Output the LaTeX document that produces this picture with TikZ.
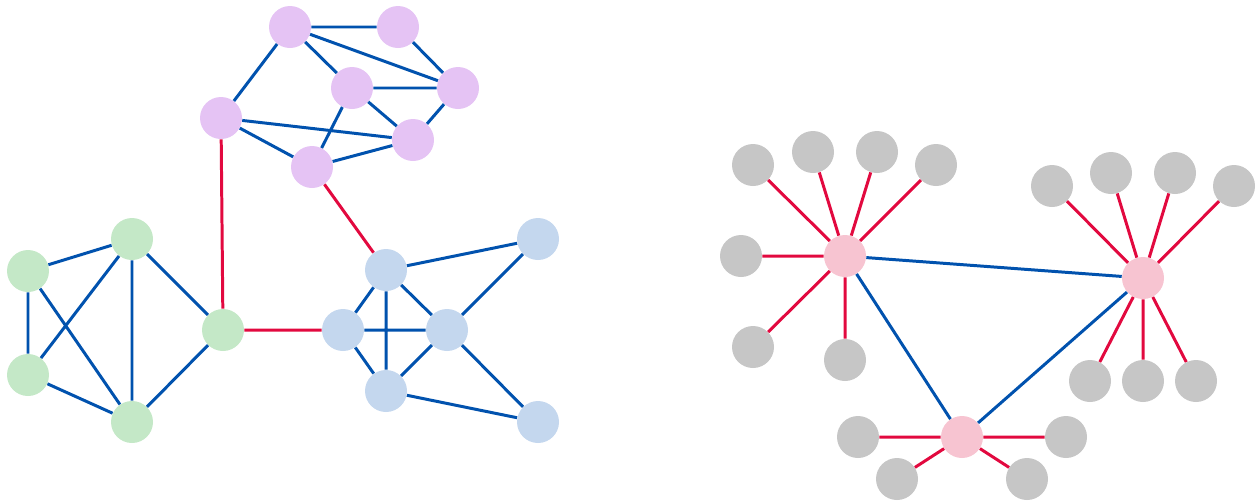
\documentclass[tikz,border=0pt]{standalone}
\begin{document}
\begin{tikzpicture}[x=0.02cm,y=-0.02cm,
  vtx/.style={circle,minimum size=42*0.02cm,inner sep=0pt,draw=none},
  pur/.style={vtx,fill=purpfill},
  blu/.style={vtx,fill=bluefill},
  grn/.style={vtx,fill=greenfill},
  pnk/.style={vtx,fill=pinkfill},
  gry/.style={vtx,fill=greyfill},
  bedge/.style={draw=edgeblue,line width=1.7pt},
  redge/.style={draw=edgered,line width=1.7pt}]
\definecolor{purpfill}{HTML}{E5C3F4}
\definecolor{bluefill}{HTML}{C4D7EE}
\definecolor{greenfill}{HTML}{C4E8C7}
\definecolor{pinkfill}{HTML}{F7C4D1}
\definecolor{greyfill}{HTML}{C6C6C6}
\definecolor{edgeblue}{HTML}{0152AE}
\definecolor{edgered}{HTML}{E2093F}
\useasboundingbox (0,0) rectangle (1256,501);
% purple
\node[pur] (p1) at (290,27) {};
\node[pur] (p2) at (398,27) {};
\node[pur] (p3) at (352,88) {};
\node[pur] (p4) at (458,88) {};
\node[pur] (p5) at (221,118) {};
\node[pur] (p6) at (413,140) {};
\node[pur] (p7) at (312,167) {};
% green
\node[grn] (g1) at (28,271) {};
\node[grn] (g2) at (132,239) {};
\node[grn] (g3) at (28,375) {};
\node[grn] (g4) at (132,422) {};
\node[grn] (g5) at (223,330) {};
% blue
\node[blu] (b1) at (386,270) {};
\node[blu] (b2) at (538,239) {};
\node[blu] (b3) at (343,330) {};
\node[blu] (b4) at (447,330) {};
\node[blu] (b5) at (386,391) {};
\node[blu] (b6) at (538,422) {};
% right graph
\node[pnk] (h1) at (845,256) {};
\node[pnk] (h2) at (1143,278) {};
\node[pnk] (h3) at (962,437) {};
\node[gry] (a1) at (753,165) {};
\node[gry] (a2) at (813,152) {};
\node[gry] (a3) at (877,152) {};
\node[gry] (a4) at (936,165) {};
\node[gry] (a5) at (741,256) {};
\node[gry] (a6) at (753,347) {};
\node[gry] (a7) at (845,360) {};
\node[gry] (c1) at (1052,186) {};
\node[gry] (c2) at (1111,173) {};
\node[gry] (c3) at (1175,173) {};
\node[gry] (c4) at (1234,186) {};
\node[gry] (c5) at (1090,381) {};
\node[gry] (c6) at (1143,381) {};
\node[gry] (c7) at (1196,381) {};
\node[gry] (d1) at (858,437) {};
\node[gry] (d2) at (1066,437) {};
\node[gry] (d3) at (897,479) {};
\node[gry] (d4) at (1027,479) {};
% edges
\path[bedge] (p1)--(p2) (p1)--(p4) (p1)--(p3) (p1)--(p5) (p2)--(p4) (p3)--(p4)
  (p3)--(p6) (p3)--(p7) (p4)--(p6) (p5)--(p6) (p5)--(p7) (p7)--(p6);
\path[bedge] (g1)--(g2) (g1)--(g3) (g1)--(g4) (g2)--(g3) (g2)--(g4) (g2)--(g5)
  (g3)--(g4) (g4)--(g5);
\path[bedge] (b1)--(b2) (b1)--(b3) (b1)--(b4) (b1)--(b5) (b3)--(b4) (b3)--(b5)
  (b4)--(b5) (b4)--(b2) (b4)--(b6) (b5)--(b6);
\path[redge] (p5)--(g5) (p7)--(b1) (g5)--(b3);
\path[bedge] (h1)--(h2) (h1)--(h3) (h3)--(h2);
\path[redge] (h1)--(a1) (h1)--(a2) (h1)--(a3) (h1)--(a4) (h1)--(a5) (h1)--(a6) (h1)--(a7);
\path[redge] (h2)--(c1) (h2)--(c2) (h2)--(c3) (h2)--(c4) (h2)--(c5) (h2)--(c6) (h2)--(c7);
\path[redge] (h3)--(d1) (h3)--(d2) (h3)--(d3) (h3)--(d4);
\end{tikzpicture}
\end{document}
